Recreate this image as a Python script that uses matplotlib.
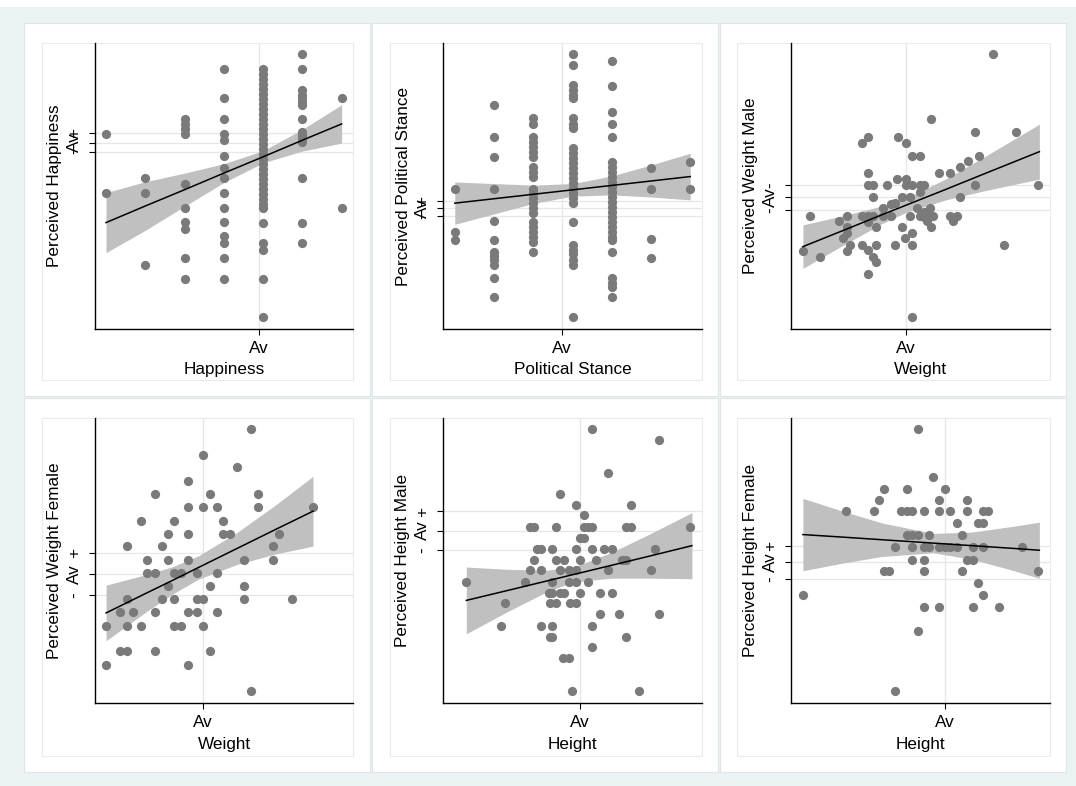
import matplotlib
matplotlib.use('Agg')
import matplotlib.pyplot as plt
import numpy as np
from matplotlib.patches import Rectangle

plt.rcParams['font.family'] = ['Liberation Sans', 'DejaVu Sans']

# ---------------- data (0-100 scales unless noted) ----------------
# Happiness (x on a 1-7 scale)
hap_cols = {
    1: [68.2, 47.7],
    2: [52.9, 47.7, 22.4],
    3: [73.3, 71.6, 69.9, 68.2, 50.6, 42.4, 37.5, 34.8, 24.7, 17.4],
    4: [90.9, 80.7, 73.3, 68.2, 66.1, 60.5, 56.2, 52.9, 47.7, 42.4, 37.5, 32.5, 30.0, 24.7, 17.4],
    5: [90.9, 89.2, 87.4, 85.7, 83.9, 82.2, 80.4, 78.7, 76.9, 75.2, 73.4, 71.7, 69.9, 68.2,
        66.4, 64.7, 62.9, 61.2, 59.4, 57.7, 55.9, 54.2, 52.4, 50.7, 48.9, 47.2, 45.4, 43.7,
        42.4, 37.2, 30.2, 27.6, 17.4, 4.3],
    6: [96.2, 90.9, 83.6, 81.8, 80.7, 79.5, 78.3, 73.3, 69.0, 67.8, 66.7, 65.5, 52.9, 37.2, 30.0],
    7: [80.7, 42.4],
}
hap_fit_x = [1, 2, 3, 4, 5, 6, 7]
hap_fit_y = [37.2, 43.0, 48.7, 54.5, 60.2, 66.0, 71.7]
hap_lo = [26.7, 34.5, 42.9, 51.2, 58.1, 62.2, 65.0]
hap_hi = [47.7, 51.5, 54.5, 57.8, 62.3, 69.8, 78.4]

# Political stance (x on a 1-7 scale)
pol_cols = {
    1: [49.0, 34.0, 31.1],
    2: [78.3, 67.2, 60.3, 49.0, 37.9, 31.1, 27.0, 25.5, 24.1, 22.4, 17.7, 11.3],
    3: [73.7, 71.6, 67.2, 65.4, 63.6, 61.9, 60.3, 56.8, 55.0, 53.3, 49.0, 47.5, 45.7, 44.0,
        42.2, 40.4, 37.5, 35.7, 34.0, 32.2, 30.5, 27.0],
    4: [96.2, 92.3, 85.3, 83.6, 81.8, 80.7, 73.7, 71.6, 70.2, 63.2, 61.4, 59.7, 57.9, 56.2,
        54.4, 52.7, 50.9, 49.2, 47.4, 45.7, 43.9, 37.5, 29.4, 27.6, 26.2, 24.1, 22.4, 4.3],
    5: [93.8, 85.0, 76.0, 71.6, 67.2, 58.5, 56.8, 55.0, 53.3, 51.5, 49.8, 48.0, 46.3, 44.5,
        42.8, 41.0, 39.3, 37.5, 35.8, 34.0, 32.3, 31.1, 27.0, 17.7, 16.0, 14.8, 11.3],
    6: [56.2, 49.0, 31.4, 24.7],
    7: [58.3, 49.0],
}
pol_fit_x = [1, 2, 3, 4, 5, 6, 7]
pol_fit_y = [44.0, 45.55, 47.1, 48.65, 50.2, 51.75, 53.3]
pol_lo = [36.6, 40.25, 43.9, 46.45, 46.9, 46.15, 45.15]
pol_hi = [51.4, 50.85, 50.3, 50.85, 53.5, 57.35, 61.45]

# Weight, male raters
wm_x = [78.1, 54.0, 71.1, 86.9, 29.9, 27.4, 41.3, 44.3, 46.7, 49.9, 72.4, 68.5, 65.3, 61.2,
        57.2, 29.9, 40.9, 44.3, 29.9, 31.5, 37.0, 44.3, 46.7, 49.9, 51.4, 71.1, 95.5, 49.9,
        31.5, 42.8, 46.0, 65.3, 40.2, 38.6, 35.7, 48.6, 53.7, 7.2, 21.6, 18.4, 27.4, 29.9,
        31.5, 35.7, 38.6, 46.0, 49.9, 52.4, 55.0, 61.2, 64.0, 29.9, 52.4, 62.7, 21.6, 32.9,
        42.8, 54.0, 21.6, 20.1, 44.1, 46.9, 4.6, 11.3, 21.6, 22.9, 27.4, 29.9, 32.9, 40.2,
        46.9, 31.5, 32.9, 29.9, 82.3, 46.9, 51.4, 51.4]
wm_y = [96.2, 73.3, 69.0, 69.0, 67.2, 64.9, 67.2, 64.9, 60.6, 60.6, 60.6, 58.9, 56.5, 54.4,
        54.7, 54.4, 52.3, 52.3, 50.3, 50.3, 50.3, 50.3, 50.3, 50.3, 50.3, 50.3, 50.3, 48.0,
        46.3, 46.3, 46.3, 46.3, 43.9, 43.7, 42.2, 42.2, 42.2, 39.6, 39.6, 37.8, 39.6, 39.6,
        39.6, 39.6, 39.6, 39.6, 39.6, 39.6, 39.6, 39.6, 39.6, 37.5, 37.8, 37.8, 35.8, 35.5,
        35.5, 35.5, 33.4, 31.7, 31.7, 33.7, 27.4, 25.3, 27.4, 29.4, 29.4, 27.6, 29.4, 29.4,
        29.4, 25.3, 23.5, 19.1, 29.4, 4.3, 41.0, 39.3]
wm_fit_x = [4.6, 20, 35, 45, 60, 75, 95.9]
wm_fit_y = [28.8, 34.4, 39.9, 43.5, 48.9, 54.4, 62.0]
wm_lo = [21.2, 29.2, 36.8, 41.0, 45.2, 48.4, 52.4]
wm_hi = [36.4, 39.6, 43.0, 46.0, 52.6, 60.4, 71.6]

# Weight, female raters
wf_x = [60.4, 41.7, 55.1, 36.1, 23.2, 44.5, 63.0, 36.1, 41.7, 47.1, 63.0, 84.5, 17.7, 30.7,
        49.7, 28.4, 36.1, 49.7, 52.5, 71.4, 12.3, 25.8, 68.8, 20.0, 28.4, 36.1, 57.8, 68.8,
        20.0, 23.2, 30.7, 33.5, 39.4, 47.1, 28.4, 44.5, 57.8, 12.3, 25.8, 30.7, 39.4, 41.7,
        57.8, 76.5, 9.7, 14.8, 23.2, 36.1, 39.4, 47.1, 4.3, 12.3, 17.7, 30.7, 33.5, 41.7,
        9.7, 12.3, 23.2, 44.5, 4.3, 36.1, 60.4]
wf_y = [96.3, 86.9, 82.8, 78.0, 73.3, 73.3, 73.3, 68.7, 68.7, 68.7, 68.7, 68.7, 64.0, 64.0,
        64.0, 59.3, 59.3, 59.3, 59.3, 59.3, 55.2, 55.2, 55.2, 50.3, 50.3, 50.3, 50.3, 50.3,
        45.6, 45.6, 45.6, 45.6, 45.6, 45.6, 40.9, 40.9, 40.9, 36.5, 36.5, 36.5, 36.5, 36.5,
        36.5, 36.5, 31.8, 31.8, 31.8, 31.8, 31.8, 31.8, 26.9, 26.9, 26.9, 26.9, 26.9, 26.9,
        18.1, 18.1, 18.1, 18.1, 13.5, 13.5, 4.1]
wf_fit_x = [4.3, 20, 30, 40, 55, 70, 84.5]
wf_fit_y = [31.6, 38.6, 43.0, 47.5, 54.2, 60.9, 67.3]
wf_lo = [21.85, 32.1, 38.2, 43.4, 48.6, 52.3, 55.05]
wf_hi = [41.35, 45.1, 47.8, 51.6, 59.8, 69.5, 79.55]

# Height, male raters
hm_x = [57.5, 83.4, 63.7, 45.3, 51.4, 72.6, 54.3, 33.5, 35.0, 43.6, 54.3, 55.9, 57.5, 70.8,
        72.6, 95.2, 53.0, 54.3, 36.3, 38.0, 42.1, 51.4, 57.5, 62.0, 65.3, 81.9, 35.0, 43.6,
        46.8, 53.0, 59.1, 69.1, 70.8, 33.5, 38.0, 45.3, 48.5, 51.4, 63.7, 80.3, 9.0, 31.5,
        42.1, 48.5, 51.4, 55.9, 40.8, 42.1, 45.3, 46.8, 53.0, 60.5, 65.3, 24.1, 41.4, 43.6,
        49.2, 51.4, 60.5, 67.8, 83.4, 22.5, 38.0, 42.1, 57.5, 41.4, 42.1, 70.8, 57.5, 46.3,
        48.5, 49.8, 75.7]
hm_y = [96.3, 92.4, 80.7, 73.3, 69.6, 69.6, 65.8, 61.6, 61.6, 61.6, 61.6, 61.6, 61.6, 61.6,
        61.6, 61.6, 57.9, 57.9, 54.2, 54.2, 54.2, 54.2, 54.2, 54.2, 54.2, 54.2, 50.3, 50.3,
        50.3, 50.3, 50.3, 50.3, 50.3, 46.5, 46.5, 46.5, 46.5, 46.5, 46.5, 46.5, 42.3, 42.3,
        42.3, 42.3, 42.3, 42.3, 38.6, 38.6, 38.6, 38.6, 38.6, 38.6, 38.6, 35.1, 35.1, 35.1,
        35.1, 35.1, 31.2, 31.2, 31.2, 26.9, 26.9, 26.9, 26.9, 23.2, 23.2, 23.2, 19.5, 15.8,
        15.8, 4.1, 4.1]
hm_fit_x = [9.0, 25, 40, 50, 65, 80, 96.1]
hm_fit_y = [36.0, 39.5, 42.8, 45.0, 48.3, 51.6, 55.2]
hm_lo = [24.3, 32.1, 39.0, 42.4, 43.8, 43.8, 43.6]
hm_hi = [47.7, 46.9, 46.6, 47.6, 52.8, 59.4, 66.8]

# Height, female raters
hf_x = [49.0, 55.0, 59.3, 36.0, 44.7, 34.1, 57.2, 67.9, 21.2, 31.9, 42.5, 44.7, 46.9, 51.2,
        57.2, 61.2, 67.9, 74.3, 76.2, 64.0, 72.1, 74.3, 44.7, 46.9, 49.0, 53.1, 65.9, 40.2,
        46.9, 51.2, 53.1, 57.2, 59.3, 61.2, 64.0, 70.1, 74.3, 89.1, 46.9, 51.2, 67.9, 70.1,
        36.0, 38.0, 51.2, 65.9, 95.5, 72.1, 4.6, 74.3, 51.2, 57.2, 70.1, 80.5, 49.0, 40.2]
hf_y = [96.3, 79.3, 75.2, 75.2, 75.2, 71.1, 71.1, 71.1, 67.3, 67.3, 67.3, 67.3, 67.3, 67.3,
        67.3, 67.3, 67.3, 67.3, 67.3, 63.2, 63.2, 63.2, 58.8, 58.8, 58.8, 58.8, 58.8, 54.6,
        54.6, 54.6, 54.6, 54.6, 54.6, 54.6, 54.6, 54.6, 54.6, 54.6, 50.3, 50.3, 50.3, 50.3,
        46.2, 46.2, 46.2, 46.2, 46.2, 42.1, 37.8, 37.8, 33.6, 33.6, 33.6, 33.6, 25.1, 4.1]
hf_fit_x = [4.6, 20, 35, 55, 70, 85, 95.9]
hf_fit_y = [59.1, 58.2, 57.3, 56.1, 55.2, 54.3, 53.6]
hf_lo = [46.4, 49.1, 51.4, 52.7, 50.4, 46.7, 43.75]
hf_hi = [71.8, 67.3, 63.2, 59.5, 60.0, 61.9, 63.45]

# y ticks (three per panel) and x "Av" position
hap_yticks, pol_yticks = [62.0, 65.2, 68.4], [39.5, 42.2, 44.9]
wm_yticks, wf_yticks = [41.6, 46.0, 50.3], [37.8, 45.3, 52.6]
hm_yticks, hf_yticks = [53.7, 60.5, 67.2], [43.4, 49.3, 55.1]
av_x = [4.89, 3.72, 44.3, 41.7, 53.0, 59.3]


def cols_to_xy(cols):
    xs, ys = [], []
    for k, v in cols.items():
        xs += [k] * len(v)
        ys += v
    return xs, ys


hap_x, hap_y = cols_to_xy(hap_cols)
pol_x, pol_y = cols_to_xy(pol_cols)

# ---------------- figure ----------------
W, H = 1076, 786
fig = plt.figure(figsize=(W / 100, H / 100), dpi=100)
fig.patch.set_facecolor('#EAF2F3')


def frect(l, t, r, b, **kw):
    fig.add_artist(Rectangle((l / W, 1 - b / H), (r - l) / W, (b - t) / H,
                             transform=fig.transFigure, **kw))


frect(0, 0, W, 7, facecolor='white', edgecolor='none', zorder=-2)

dot = '#7a7a7a'
band = '#c0c0c0'
grid = '#e6e6e6'
fs = 12.3

panels = [
    # axes px (l,t,r,b), inner box left, panel rect, data...
    ((95, 43, 353, 329), 42, (24, 23, 370, 396), hap_x, hap_y, hap_fit_x, hap_fit_y, hap_lo, hap_hi,
     (0.72, 7.29), hap_yticks, ['-', 'Av', '+'], 'Perceived Happiness', 'Happiness'),
    ((443, 43, 702, 329), 390, (372, 23, 718, 396), pol_x, pol_y, pol_fit_x, pol_fit_y, pol_lo, pol_hi,
     (0.70, 7.30), pol_yticks, ['-', 'Av', '+'], 'Perceived Political Stance', 'Political Stance'),
    ((791, 43, 1050, 329), 737, (720, 23, 1066, 396), wm_x, wm_y, wm_fit_x, wm_fit_y, wm_lo, wm_hi,
     (0, 100), wm_yticks, ['-', 'Av', '-'], 'Perceived Weight Male', 'Weight'),
    ((95, 418, 353, 703), 42, (24, 398, 370, 772), wf_x, wf_y, wf_fit_x, wf_fit_y, wf_lo, wf_hi,
     (0, 100), wf_yticks, ['-', 'Av', '+'], 'Perceived Weight Female', 'Weight'),
    ((443, 418, 702, 703), 390, (372, 398, 718, 772), hm_x, hm_y, hm_fit_x, hm_fit_y, hm_lo, hm_hi,
     (0, 100), hm_yticks, ['-', 'Av', '+'], 'Perceived Height Male', 'Height'),
    ((791, 418, 1050, 703), 737, (720, 398, 1066, 772), hf_x, hf_y, hf_fit_x, hf_fit_y, hf_lo, hf_hi,
     (0, 100), hf_yticks, ['-', 'Av', '+'], 'Perceived Height Female', 'Height'),
]

for i, (apx, boxl, prect, x, y, fx_, fy_, lo, hi, xlim, yt, ylab, ytitle, xtitle) in enumerate(panels):
    l, t, r, b = apx
    # white graph region + faint inner box
    frect(*prect, facecolor='white', edgecolor='#dfe6e8', lw=0.8, zorder=-1)
    frect(boxl, t, r, b + 51 if b < 400 else b + 53, facecolor='none', edgecolor='#ebebeb', lw=0.8, zorder=-1)

    ax = fig.add_axes([l / W, 1 - b / H, (r - l) / W, (b - t) / H])
    ax.set_facecolor('none')
    ax.set_xlim(xlim)
    ax.set_ylim(0, 100)
    for v in yt:
        ax.axhline(v, color=grid, lw=0.9, zorder=0)
    ax.axvline(av_x[i], color=grid, lw=0.9, zorder=0)

    ax.fill_between(fx_, lo, hi, color=band, lw=0, zorder=1)
    ax.scatter(x, y, s=44, color=dot, lw=0, zorder=2, clip_on=False)
    ax.plot(fx_, fy_, color='black', lw=1.1, zorder=3)

    for s in ['top', 'right']:
        ax.spines[s].set_visible(False)
    for s in ['left', 'bottom']:
        ax.spines[s].set_color('black')
        ax.spines[s].set_linewidth(1.0)

    ax.set_xticks([av_x[i]], ['Av'], fontsize=fs)
    ax.set_yticks(yt, ylab, fontsize=fs, rotation=90, va='center')
    ax.tick_params(axis='both', direction='out', length=4.5, width=0.8, color='black')
    ax.tick_params(axis='x', pad=4)
    ax.tick_params(axis='y', pad=5)

    ax.set_ylabel(ytitle, fontsize=fs, va='center')
    ax.yaxis.set_label_coords(-40 / (r - l), 0.5)
    ax.set_xlabel(xtitle, fontsize=fs, va='center')
    ax.xaxis.set_label_coords(0.5, -41 / (b - t))

fig.savefig('out.png', dpi=100, facecolor=fig.get_facecolor())
